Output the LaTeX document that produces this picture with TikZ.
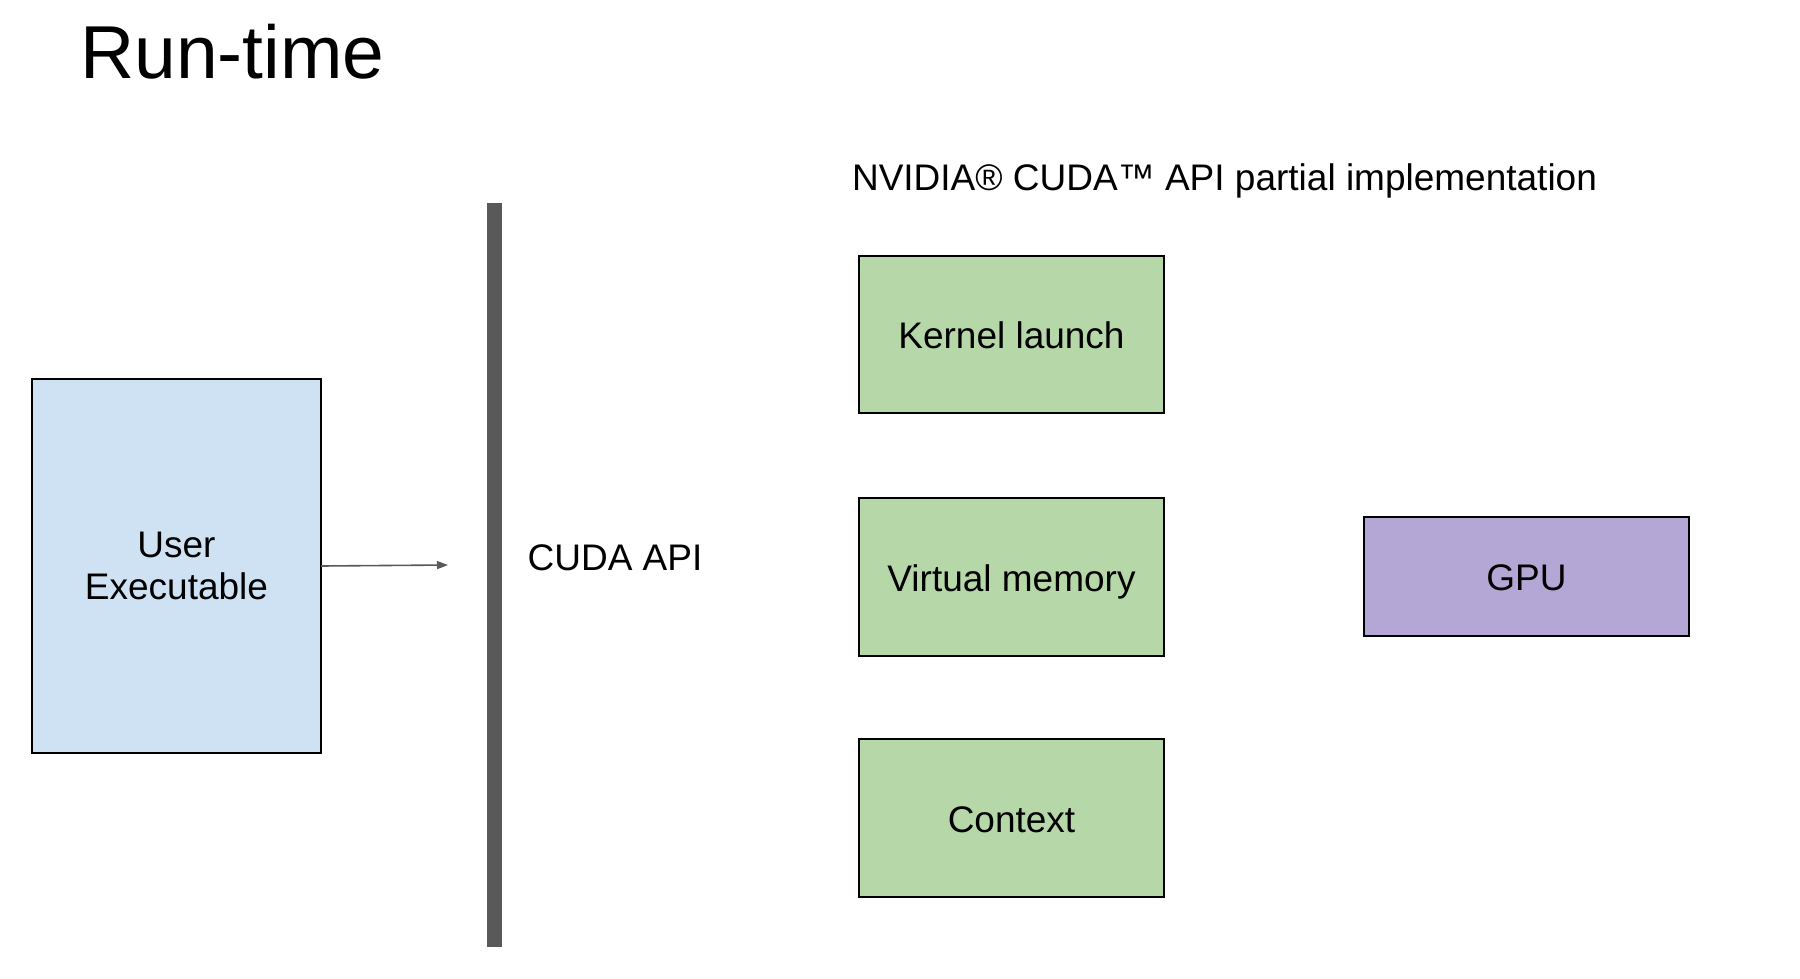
\documentclass[tikz,border=0pt]{standalone}
\usepackage{fontspec}
\setmainfont{Liberation Sans}
\usetikzlibrary{arrows.meta}
\definecolor{ueblue}{HTML}{CFE2F3}
\definecolor{kgreen}{HTML}{B6D7A8}
\definecolor{gpurple}{HTML}{B4A7D6}
\definecolor{bargray}{HTML}{595959}
\tikzset{
  box/.style={draw=black, line width=2pt, inner sep=0pt, outer sep=0pt,
    font=\fontsize{37}{42}\selectfont},
  onebox/.style={box, text height=28pt, text depth=0pt},
  lbl/.style={inner sep=0pt, font=\fontsize{37}{44}\selectfont},
  arr/.style={draw=bargray, line width=1.6pt, -{Triangle[length=11pt,width=8pt]}}
}
\begin{document}
\begin{tikzpicture}[x=1pt,y=-1pt]
\useasboundingbox (0,0) rectangle (1800,978);
\node[inner sep=0pt, anchor=base west, font=\fontsize{75}{80}\selectfont] (title) at (80,78) {Run-time};
\node[box, align=center, fill=ueblue, minimum width=289pt, minimum height=374pt] (ue) at (176.5,566) {User\\Executable};
\node[fill=bargray, inner sep=0pt, outer sep=0pt, minimum width=15pt, minimum height=744pt] (bar) at (494.5,575) {};
\coordinate (api) at (448,565);
\draw[arr] (ue.east) -- (api);
\node[lbl, anchor=base] (cudaapi) at (615,570) {CUDA API};
\node[lbl, anchor=base] (impl) at (1224.5,190) {NVIDIA® CUDA™ API partial implementation};
\node[onebox, fill=kgreen, minimum width=305pt, minimum height=157pt] (kl) at (1011.5,334.5) {Kernel launch};
\node[onebox, fill=kgreen, minimum width=305pt, minimum height=158pt] (vm) at (1011.5,577) {Virtual memory};
\node[onebox, fill=kgreen, minimum width=305pt, minimum height=158pt] (ctx) at (1011.5,818) {Context};
\node[onebox, fill=gpurple, minimum width=325pt, minimum height=119pt] (gpu) at (1526.5,576.5) {GPU};
\end{tikzpicture}
\end{document}
